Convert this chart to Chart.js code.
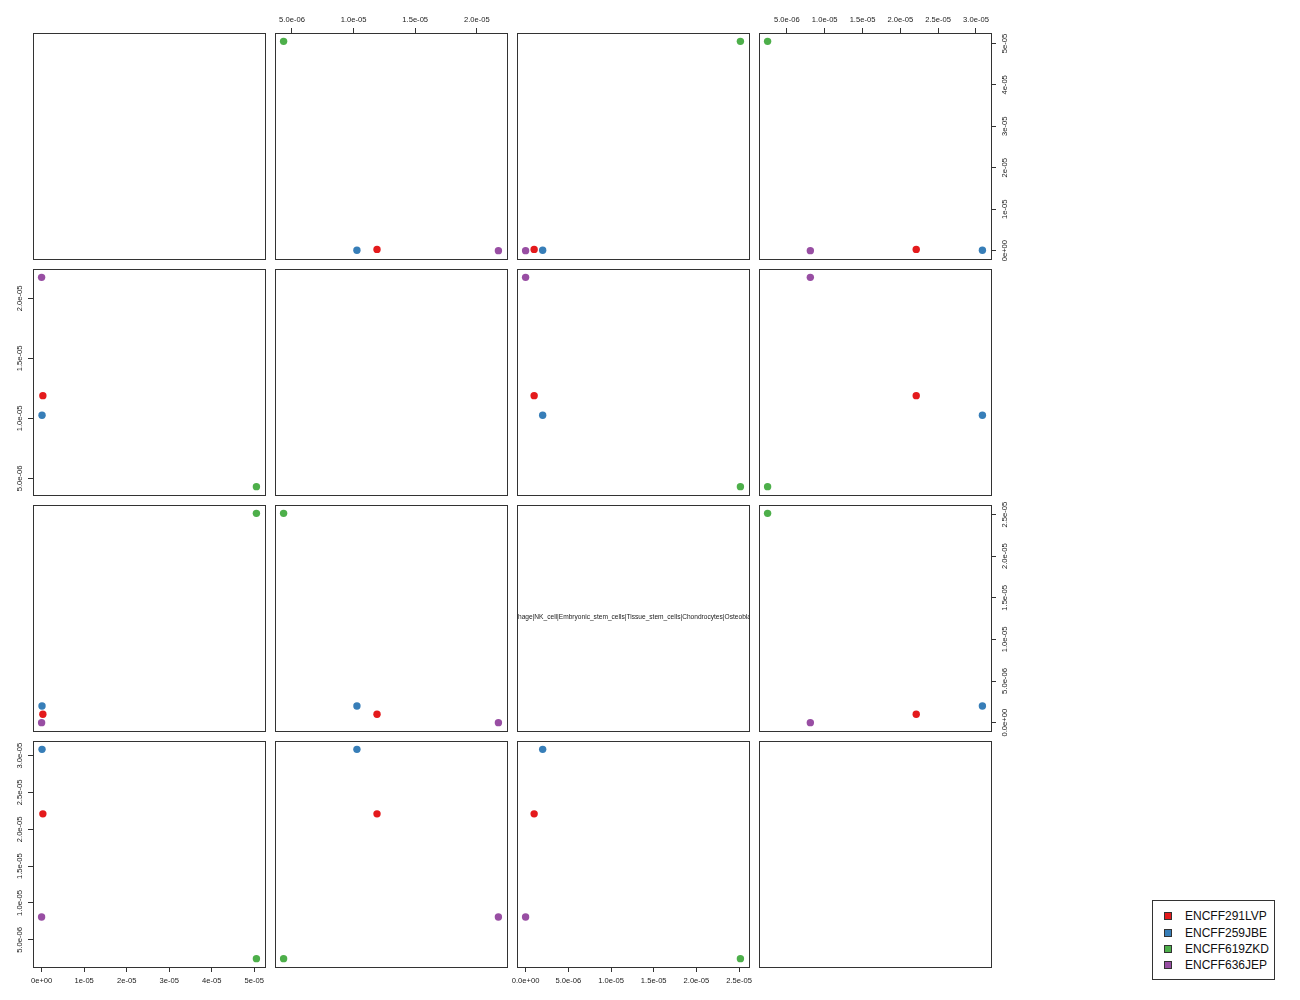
<!DOCTYPE html>
<html>
<head>
<meta charset="utf-8">
<script src="https://cdn.jsdelivr.net/npm/chart.js@4.4.1/dist/chart.umd.min.js"></script>
<style>
  html, body { margin: 0; padding: 0; background: #ffffff; }
  #wrap { position: relative; width: 1300px; height: 1000px; overflow: hidden; background: #fff; }
  canvas.panel { position: absolute; }
  #legend { position: absolute; left: 1152px; top: 900px; width: 123px; height: 80px;
            border: 1px solid #333; box-sizing: border-box; background: #fff;
            font-family: "Liberation Sans", Arial, sans-serif; font-size: 12px; color: #111; }
  .li { position: absolute; left: 0; height: 14px; line-height: 14px; white-space: nowrap; }
  .sw { position: absolute; left: 11px; top: 3px; width: 8px; height: 8px; box-sizing: border-box; border: 1px solid #333; }
  .lt { position: absolute; left: 32px; top: 0; }
</style>
</head>
<body>
<div id="wrap"><div id="legend"></div></div>
<script>
// ---------------- data ----------------
const series = ["ENCFF291LVP", "ENCFF259JBE", "ENCFF619ZKD", "ENCFF636JEP"];
const seriesColors = ["#E41A1C", "#377EB8", "#4DAF4A", "#984EA3"];

// variable values, one entry per series (same order as `series`)
const var1 = [3.0e-7, 1.0e-7, 5.05e-5, 0.0];
const var2 = [1.19e-5, 1.027e-5, 4.32e-6, 2.175e-5];
const var3 = [1.0e-6, 2.0e-6, 2.515e-5, 0.0];
const var4 = [2.21e-5, 3.085e-5, 2.45e-6, 8.1e-6];

// diagonal labels (only the third one is visible in the reference)
const varNames = ["", "", "Monocyte|Macrophage|NK_cell|Embryonic_stem_cells|Tissue_stem_cells|Chondrocytes|Osteoblasts|Fibroblasts", ""];

// tick values and labels per variable
const ticks1 = [0, 1e-5, 2e-5, 3e-5, 4e-5, 5e-5];
const tickLabels1 = ["0e+00", "1e-05", "2e-05", "3e-05", "4e-05", "5e-05"];
const ticks2 = [5e-6, 1e-5, 1.5e-5, 2e-5];
const tickLabels2 = ["5.0e-06", "1.0e-05", "1.5e-05", "2.0e-05"];
const ticks3 = [0, 5e-6, 1e-5, 1.5e-5, 2e-5, 2.5e-5];
const tickLabels3 = ["0.0e+00", "5.0e-06", "1.0e-05", "1.5e-05", "2.0e-05", "2.5e-05"];
const ticks4 = [5e-6, 1e-5, 1.5e-5, 2e-5, 2.5e-5, 3e-5];
const tickLabels4 = ["5.0e-06", "1.0e-05", "1.5e-05", "2.0e-05", "2.5e-05", "3.0e-05"];

// ---------------- layout ----------------
const vars = [var1, var2, var3, var4];
const tickVals = [ticks1, ticks2, ticks3, ticks4];
const tickLabs = [tickLabels1, tickLabels2, tickLabels3, tickLabels4];
const N = 4;
const PANEL_W = 232, PANEL_H = 226;
const STEP_X = 242, STEP_Y = 236;
const LEFT0 = 33, TOP0 = 33;
const M = 40;
const FONT = '"Liberation Sans", Arial, Helvetica, sans-serif';
const TICK_FONT_SIZE = 7.6;

const measureCtx = document.createElement('canvas').getContext('2d');
function widestLabel(labels) {
  measureCtx.font = TICK_FONT_SIZE + 'px ' + FONT;
  return Math.max(...labels.map(l => measureCtx.measureText(l).width));
}

function range(v) {
  const lo = Math.min(...vars[v]), hi = Math.max(...vars[v]);
  const r = hi - lo;
  return [lo - 0.04 * r, hi + 0.04 * r];
}

function makeScale(axis, position, v, show) {
  const [lo, hi] = range(v);
  const vals = tickVals[v], labs = tickLabs[v];
  const horizontal = axis === 'x';
  let padding = 4;
  if (!horizontal) {
    const w = widestLabel(labs);
    padding = position === 'left' ? (13.5 - 5 - w / 2) : (14 - 5 - w / 2);
  }
  return {
    type: 'linear', axis: axis, position: position, min: lo, max: hi,
    afterBuildTicks: s => { s.ticks = vals.filter(t => t >= lo && t <= hi).map(t => ({ value: t })); },
    afterFit: s => { if (horizontal) s.height = M; else s.width = M; },
    grid: { display: show, drawOnChartArea: false, drawTicks: true, tickLength: 5, color: '#333', lineWidth: 1 },
    border: { display: false },
    ticks: {
      display: show, autoSkip: false, color: '#1a1a1a',
      font: { family: FONT, size: TICK_FONT_SIZE },
      minRotation: horizontal ? 0 : 90, maxRotation: horizontal ? 0 : 90,
      padding: padding, crossAlign: horizontal ? 'near' : 'center',
      callback: (val) => {
        const k = vals.findIndex(t => Math.abs(t - val) < 1e-12);
        return k >= 0 ? labs[k] : '';
      }
    }
  };
}

const panelPlugin = {
  id: 'panelBox',
  afterDraw(chart, args, opts) {
    const ctx = chart.ctx, a = chart.chartArea;
    ctx.save();
    ctx.strokeStyle = '#333';
    ctx.lineWidth = 1;
    ctx.strokeRect(a.left + 0.5, a.top + 0.5, a.right - a.left, a.bottom - a.top);
    if (opts && opts.label) {
      ctx.beginPath();
      ctx.rect(a.left + 1, a.top + 1, a.right - a.left - 1, a.bottom - a.top - 1);
      ctx.clip();
      ctx.fillStyle = '#1a1a1a';
      ctx.font = '6.6px ' + FONT;
      ctx.textAlign = 'center';
      ctx.textBaseline = 'middle';
      ctx.fillText(opts.label, (a.left + a.right) / 2 - 3.5, (a.top + a.bottom) / 2 - 1);
    }
    ctx.restore();
  }
};

const wrap = document.getElementById('wrap');
for (let i = 0; i < N; i++) {
  for (let j = 0; j < N; j++) {
    const cv = document.createElement('canvas');
    cv.className = 'panel';
    const w = PANEL_W + 2 * M, h = PANEL_H + 2 * M;
    cv.width = w; cv.height = h;
    cv.style.width = w + 'px'; cv.style.height = h + 'px';
    cv.style.left = (LEFT0 + j * STEP_X - M) + 'px';
    cv.style.top = (TOP0 + i * STEP_Y - M) + 'px';
    wrap.appendChild(cv);

    const datasets = [];
    if (i !== j) {
      for (let k = 0; k < series.length; k++) {
        datasets.push({
          label: series[k],
          data: [{ x: vars[j][k], y: vars[i][k] }],
          backgroundColor: seriesColors[k],
          borderColor: seriesColors[k],
          pointRadius: 3.7,
          pointBorderWidth: 0,
          xAxisID: 'x', yAxisID: 'y'
        });
      }
    }
    const showBottom = (i === N - 1) && (j % 2 === 0) && i !== j;
    const showTop = (i === 0) && (j % 2 === 1) && i !== j;
    const showLeft = (j === 0) && (i % 2 === 1) && i !== j;
    const showRight = (j === N - 1) && (i % 2 === 0) && i !== j;

    new Chart(cv, {
      type: 'scatter',
      data: { datasets: datasets },
      options: {
        responsive: false,
        animation: false,
        devicePixelRatio: 1,
        layout: { padding: 0 },
        plugins: {
          legend: { display: false },
          tooltip: { enabled: false },
          panelBox: { label: i === j ? varNames[i] : '' }
        },
        scales: {
          x: makeScale('x', 'bottom', j, showBottom),
          x2: makeScale('x', 'top', j, showTop),
          y: makeScale('y', 'left', i, showLeft),
          y2: makeScale('y', 'right', i, showRight)
        }
      },
      plugins: [panelPlugin]
    });
  }
}

// legend
const leg = document.getElementById('legend');
const legTops = [8, 24.5, 41, 57];
series.forEach((s, k) => {
  const d = document.createElement('div');
  d.className = 'li';
  d.style.top = legTops[k] + 'px';
  d.innerHTML = '<span class="sw" style="background:' + seriesColors[k] + '"></span><span class="lt">' + s + '</span>';
  leg.appendChild(d);
});
</script>
</body>
</html>
